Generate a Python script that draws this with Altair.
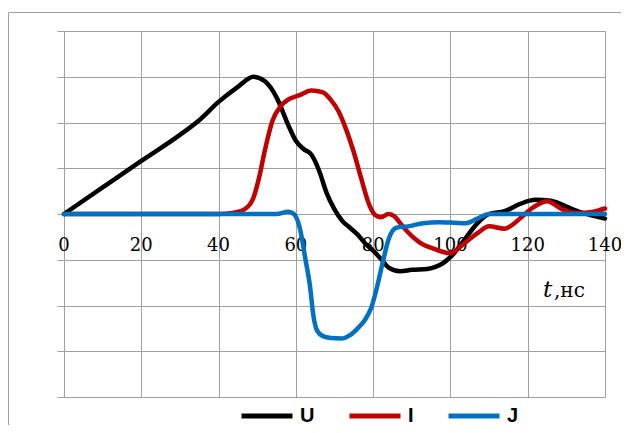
import altair as alt
import pandas as pd

# ---- data ----
u_t = [0, 10, 20, 30, 35, 40, 45, 49, 52, 55, 58, 60, 62, 64, 65, 66, 68, 70, 72, 74, 76, 78, 80, 82, 84, 87,
       90, 94, 98, 101, 104, 107, 110, 114, 118, 122, 126, 130, 134, 140]
u_v = [0, 0.58, 1.16, 1.73, 2.05, 2.45, 2.78, 3.0, 2.9, 2.55, 1.95, 1.6, 1.42, 1.3, 1.15, 0.95, 0.45, 0.1, -0.15,
       -0.3, -0.45, -0.65, -0.8, -0.98, -1.17, -1.25, -1.22, -1.2, -1.08, -0.85, -0.52, -0.2, 0.0, 0.06, 0.22,
       0.31, 0.29, 0.16, 0.03, -0.1]

i_t = [0, 40, 44, 47, 49, 50.5, 52, 54, 56, 58, 61, 64, 67, 69, 71, 73, 75, 77, 79, 80.5, 82, 84, 85.5, 87, 89,
       92, 96, 100, 103, 107, 110, 114, 118, 121, 125, 129, 133, 137, 140]
i_v = [0, 0, 0.03, 0.12, 0.35, 0.8, 1.4, 2.05, 2.35, 2.5, 2.6, 2.7, 2.66, 2.5, 2.25, 1.85, 1.35, 0.75, 0.2, -0.02,
       -0.07, 0.0, -0.05, -0.2, -0.4, -0.62, -0.77, -0.86, -0.68, -0.42, -0.27, -0.32, -0.1, 0.12, 0.28, 0.1,
       0.02, 0.05, 0.12]

j_t = [0, 55, 58, 59.5, 61, 62.5, 63.7, 64.5, 65.5, 67, 69, 72, 74, 76, 78, 79.5, 81, 82.5, 84, 86, 89, 93, 97,
       101, 104, 107, 110, 140]
j_v = [0, 0, 0.05, 0.0, -0.3, -1.0, -1.6, -2.2, -2.55, -2.67, -2.71, -2.72, -2.65, -2.5, -2.3, -2.05, -1.6, -1.05,
       -0.55, -0.3, -0.27, -0.2, -0.18, -0.19, -0.2, -0.1, 0.0, 0.0]

series_names = ["U", "I", "J"]
series_colors = ["#000000", "#C00000", "#0070C0"]
x_ticks = [0, 20, 40, 60, 80, 100, 120, 140]
y_ticks = [-4, -3, -2, -1, 0, 1, 2, 3, 4]

rows = []
for name, ts, vs in [("U", u_t, u_v), ("I", i_t, i_v), ("J", j_t, j_v)]:
    for k, (t, v) in enumerate(zip(ts, vs)):
        rows.append({"s": name, "t": t, "v": v, "o": k})
df = pd.DataFrame(rows)
ticks_df = pd.DataFrame({"t": x_ticks, "lab": [str(x) for x in x_ticks], "zero": [0] * len(x_ticks)})

W, H = 541, 366
GRID = "#A0A0A0"
SERIF = "DejaVu Serif"
SANS = "Liberation Sans"

xs = alt.Scale(domain=[0, 140], nice=False, zero=False)
ys = alt.Scale(domain=[-4, 4], nice=False)

base_axes = alt.Chart(ticks_df).mark_text(
    font=SERIF, fontSize=18, color="black", baseline="alphabetic", align="center", dy=37
).encode(
    x=alt.X("t:Q", scale=xs,
            axis=alt.Axis(values=x_ticks, grid=True, gridColor=GRID, gridOpacity=1, domain=False,
                          ticks=False, labels=False, title=None)),
    y=alt.Y("zero:Q", scale=ys,
            axis=alt.Axis(values=y_ticks, grid=True, gridColor=GRID, gridOpacity=1, domain=True,
                          domainColor=GRID, ticks=True, tickColor=GRID, tickSize=7, labels=False,
                          title=None)),
    text="lab:N",
)

lines = alt.Chart(df).mark_line(strokeWidth=4.5, interpolate="monotone", strokeJoin="round",
                                strokeCap="round").encode(
    x=alt.X("t:Q", scale=xs),
    y=alt.Y("v:Q", scale=ys),
    order="o:Q",
    color=alt.Color("s:N", scale=alt.Scale(domain=series_names, range=series_colors),
                    legend=alt.Legend(orient="none", legendX=175, legendY=357, direction="horizontal",
                                      title=None, symbolType="stroke", symbolSize=2601,
                                      symbolStrokeWidth=5, labelFont=SANS,
                                      labelFontWeight="bold", labelFontSize=20, labelColor="black",
                                      labelOffset=5, columnPadding=24, padding=0)),
)

t_lab = alt.Chart(pd.DataFrame({"a": [0]})).mark_text(
    text="t", font=SERIF, fontStyle="italic", fontSize=23, align="left", baseline="alphabetic",
    color="black").encode(x=alt.value(479), y=alt.value(266))
ns_lab = alt.Chart(pd.DataFrame({"a": [0]})).mark_text(
    text=",нс", font=SERIF, fontSize=20, align="left", baseline="alphabetic",
    color="black").encode(x=alt.value(490), y=alt.value(266))

frame_left = alt.Chart(pd.DataFrame({"a": [0]})).mark_rule(color=GRID, strokeWidth=1).encode(
    x=alt.value(-55.5), y=alt.value(-18.5), y2=alt.value(400))
frame_top = alt.Chart(pd.DataFrame({"a": [0]})).mark_rule(color=GRID, strokeWidth=1).encode(
    x=alt.value(-55.5), x2=alt.value(600), y=alt.value(-18.5))

chart = alt.layer(frame_left, frame_top, base_axes, lines, t_lab, ns_lab).properties(
    width=W, height=H,
    autosize=alt.AutoSizeParams(type="none"),
    padding={"left": 56, "top": 23, "right": 16, "bottom": 28},
).configure_view(stroke=None).configure(background="white")

chart.save("out.html", embed_options={"renderer": "svg", "actions": False})
